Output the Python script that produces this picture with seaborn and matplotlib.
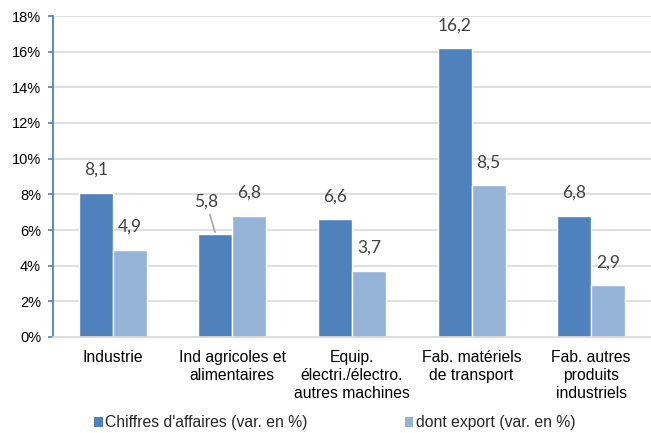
import pandas as pd
import matplotlib.pyplot as plt
import seaborn as sns
from matplotlib.patches import Patch

# Données
categories = ["Industrie", "Ind agricoles et\nalimentaires", "Equip.\nélectri./électro.\nautres machines",
              "Fab. matériels\nde transport", "Fab. autres\nproduits\nindustriels"]
series = ["Chiffres d'affaires (var. en %)", "dont export (var. en %)"]
chiffre_affaires = [8.1, 5.8, 6.6, 16.2, 6.8]
export = [4.9, 6.8, 3.7, 8.5, 2.9]
y_ticks = [0, 2, 4, 6, 8, 10, 12, 14, 16, 18]

colors = ["#4F81BD", "#95B3D7"]

df = pd.DataFrame({
    "categorie": categories * 2,
    "serie": [series[0]] * len(categories) + [series[1]] * len(categories),
    "valeur": chiffre_affaires + export,
})

# Style
sns.set_theme(style="white")
plt.rcParams['font.family'] = ['Liberation Sans', 'DejaVu Sans']

fig = plt.figure(figsize=(6.51, 4.33), dpi=100)
ax = fig.add_axes([53 / 651, 1 - 337 / 433, 598 / 651, 321 / 433])

sns.barplot(data=df, x="categorie", y="valeur", hue="serie", palette=colors,
            width=0.57, gap=0, saturation=1, legend=False, ax=ax)

ax.set_ylim(0, 18)
ax.set_yticks(y_ticks)
ax.set_yticklabels([f"{t}%" for t in y_ticks], fontsize=10.5, color="#000000")
ax.set_xticks(range(len(categories)))
ax.set_xticklabels(categories, fontsize=11.3, color="#000000", linespacing=1.25)
ax.set_xlabel("")
ax.set_ylabel("")
ax.set_xlim(-0.5, len(categories) - 0.5)

ax.yaxis.grid(True, color="#D9D9D9", linewidth=1.2)
ax.xaxis.grid(False)
ax.set_axisbelow(True)
for s in ["top", "right"]:
    ax.spines[s].set_visible(False)
ax.spines["left"].set_color("#4F81BD")
ax.spines["left"].set_linewidth(1.3)
ax.spines["bottom"].set_color("#D9D9D9")
ax.spines["bottom"].set_linewidth(1.2)
ax.tick_params(axis="y", left=True, length=3.6, width=1.2, color="#4F81BD", pad=5)
ax.tick_params(axis="x", length=0, pad=9.5)

# Étiquettes de données
for container, vals in zip(ax.containers, [chiffre_affaires, export]):
    for bar, v in zip(container, vals):
        x = bar.get_x() + bar.get_width() / 2
        label = f"{v:.1f}".replace(".", ",")
        if v == 5.8 and bar.get_facecolor()[2] < 0.8:
            ax.annotate(label, xy=(x, v), xytext=(-6.5, 22.7), textcoords="offset points",
                        ha="center", va="center", fontsize=12.5, color="#404040", family="Lato",
                        arrowprops=dict(arrowstyle="-", color="#A6A6A6", lw=1.2,
                                        shrinkA=1, shrinkB=1))
        else:
            ax.annotate(label, xy=(x, v), xytext=(0, 16.5), textcoords="offset points",
                        ha="center", va="center", fontsize=12.5, color="#404040", family="Lato")

# Légende
handles = [Patch(facecolor=c, edgecolor="none") for c in colors]
fig.legend(handles, series, loc="center left", bbox_to_anchor=(94 / 651, 1 - 423 / 433),
           ncol=2, frameon=False, fontsize=11.3, handlelength=0.55, handleheight=0.55,
           handletextpad=0.15, columnspacing=6.2, borderpad=0, borderaxespad=0)

fig.savefig("out.png", dpi=100)
